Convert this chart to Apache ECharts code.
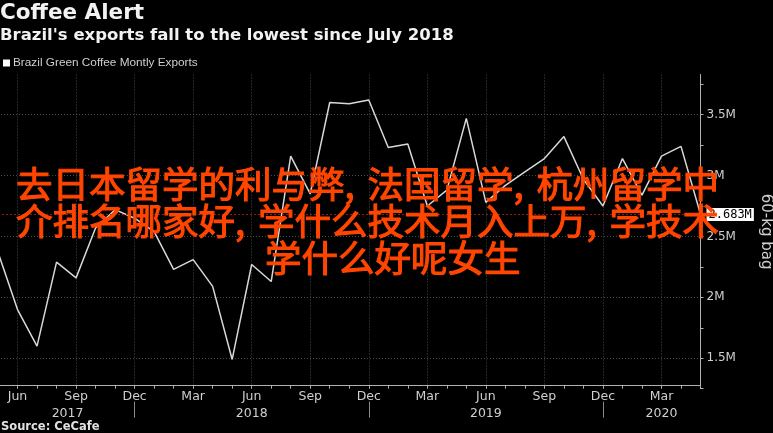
<!DOCTYPE html>
<html><head><meta charset="utf-8">
<script src="https://cdn.jsdelivr.net/npm/echarts@6/dist/echarts.min.js"></script>
<style>html,body{margin:0;padding:0;background:#000}#c{width:773px;height:433px}</style>
</head><body><div id="c"></div>
<script>
const categories = ['May 2017','Jun 2017','Jul 2017','Aug 2017','Sep 2017','Oct 2017','Nov 2017','Dec 2017',
  'Jan 2018','Feb 2018','Mar 2018','Apr 2018','May 2018','Jun 2018','Jul 2018','Aug 2018','Sep 2018','Oct 2018','Nov 2018','Dec 2018',
  'Jan 2019','Feb 2019','Mar 2019','Apr 2019','May 2019','Jun 2019','Jul 2019','Aug 2019','Sep 2019','Oct 2019','Nov 2019','Dec 2019',
  'Jan 2020','Feb 2020','Mar 2020','Apr 2020','May 2020'];
const exportsM = [2.37,1.90,1.60,2.29,2.16,2.57,2.72,2.65,
  2.54,2.23,2.31,2.09,1.49,2.27,2.13,3.16,2.85,3.60,3.59,3.62,
  3.23,3.26,2.75,2.88,3.47,2.78,2.92,3.03,3.14,3.32,2.97,2.75,
  3.14,2.84,3.16,3.24,2.683];
const lastValue = 2.683;
const monthTickLabels = ['Jun','Sep','Dec','Mar'];
const yTickValues = [1.5,2,2.5,3,3.5];
const yTickLabels = ['1.5M','2M','2.5M','3M','3.5M'];
const yearLabelAt = ['Sep 2017','Jun 2018','Jun 2019','Mar 2020'];
const yearLabels = ['2017','2018','2019','2020'];
const yearSeparatorAt = ['Dec 2017','Dec 2018','Dec 2019'];
const overlayLines = [
  ['去日本留学的利与弊', '法国留学', '杭州留学中'],
  ['介排名哪家好', '学什么技术月入上万', '学技术'],
  ['学什么好呢女生']
];

const ORANGE = '#ff4500';
const cjk = {fontSize: 36.5, fontFamily: 'Noto Sans CJK SC', fill: ORANGE, stroke: ORANGE, lineWidth: 1.1};
function richLine(parts){ return parts.map(p => '{t|' + p + '}').join('{c|,}'); }

const chart = echarts.init(document.getElementById('c'));
chart.setOption({
  backgroundColor: '#000',
  animation: false,
  title: [
    {text: 'Coffee Alert', left: 0, top: 2, padding: 0,
     textStyle: {color: '#f2f2f2', fontSize: 21.5, fontWeight: 'bold', fontFamily: 'DejaVu Sans'}},
    {text: "Brazil's exports fall to the lowest since July 2018", left: 0, top: 27, padding: 0,
     textStyle: {color: '#f2f2f2', fontSize: 16.5, fontWeight: 'bold', fontFamily: 'DejaVu Sans'}},
    {text: 'Source: CeCafe', left: 1, top: 421, padding: 0,
     textStyle: {color: '#e0e0e0', fontSize: 11.5, fontWeight: 'bold', fontFamily: 'DejaVu Sans'}}
  ],
  legend: {
    left: 3, top: 57, padding: 0, icon: 'rect', itemWidth: 7, itemHeight: 7,
    textStyle: {color: '#cfcfcf', fontSize: 11.8, fontFamily: 'Liberation Sans', padding: [0,0,0,-2]},
    data: ['Brazil Green Coffee Montly Exports']
  },
  grid: {left: -2, right: 72.5, top: 74.5, bottom: 44.3, containLabel: false, outerBoundsMode: 'none'},
  xAxis: [{
    type: 'category', data: categories, boundaryGap: false, position: 'bottom', offset: -3,
    axisLine: {show: true, lineStyle: {color: '#b0b0b0', width: 1}},
    axisTick: {show: true, interval: 0, length: 3, lineStyle: {color: '#b0b0b0'}},
    axisLabel: {
      interval: (i, v) => monthTickLabels.includes(v.split(' ')[0]),
      formatter: v => v.split(' ')[0],
      color: '#cfcfcf', fontSize: 12.5, fontFamily: 'DejaVu Sans', margin: 5
    },
    splitLine: {show: true, interval: (i, v) => monthTickLabels.includes(v.split(' ')[0]),
      lineStyle: {color: '#4a4a4a', type: [1, 2], width: 1}}
  }, {
    type: 'category', data: categories, boundaryGap: false, position: 'bottom', offset: 13,
    axisLine: {show: false},
    axisTick: {show: true, interval: (i, v) => yearSeparatorAt.includes(v), length: 16, inside: false,
      lineStyle: {color: '#8a8a8a'}},
    axisLabel: {
      interval: (i, v) => yearLabelAt.includes(v),
      formatter: v => {
        const k = yearLabelAt.indexOf(v);
        if (k < 0) return '';
        return (k === 0 ? '{s|' : '{n|') + yearLabels[k] + '}';
      },
      margin: 6,
      rich: {
        s: {color: '#cfcfcf', fontSize: 12.5, fontFamily: 'DejaVu Sans', padding: [0, 17, 0, 0]},
        n: {color: '#cfcfcf', fontSize: 12.5, fontFamily: 'DejaVu Sans'}
      }
    },
    splitLine: {show: false}
  }],
  yAxis: {
    type: 'value', position: 'right', min: 1.25, max: 3.83, interval: 0.25,
    name: '60-kg bag', nameLocation: 'middle', nameRotate: -90, nameGap: 58,
    nameTextStyle: {color: '#cfcfcf', fontSize: 15, fontFamily: 'DejaVu Sans'},
    axisLine: {show: true, lineStyle: {color: '#b0b0b0', width: 1}},
    axisTick: {show: true, length: 3, lineStyle: {color: '#b0b0b0'}},
    axisLabel: {
      color: '#cfcfcf', fontSize: 12, fontFamily: 'DejaVu Sans', margin: 6,
      showMaxLabel: false,
      formatter: v => {
        const k = yTickValues.findIndex(t => Math.abs(t - v) < 1e-6);
        return k >= 0 ? yTickLabels[k] : '';
      }
    },
    splitLine: {show: true, lineStyle: {
      color: ['rgba(0,0,0,0)','#4a4a4a','rgba(0,0,0,0)','#4a4a4a','rgba(0,0,0,0)','#4a4a4a',
              'rgba(0,0,0,0)','#4a4a4a','rgba(0,0,0,0)','#4a4a4a','rgba(0,0,0,0)','rgba(0,0,0,0)'],
      type: [1, 2], width: 1}}
  },
  series: [{
    name: 'Brazil Green Coffee Montly Exports',
    type: 'line', data: exportsM, symbol: 'none', clip: true,
    itemStyle: {color: '#ffffff'},
    lineStyle: {color: '#d8d8d8', width: 1.5},
    markLine: {
      silent: true, symbol: ['none', 'none'],
      lineStyle: {color: '#8a1c1c', type: [2, 2], width: 1},
      label: {position: 'end', formatter: () => lastValue + 'M', backgroundColor: '#ffffff',
        color: '#000', fontSize: 12, fontFamily: 'DejaVu Sans Mono', padding: [1, 2, 0, 2], distance: 6},
      data: [{yAxis: lastValue}]
    }
  }],
  graphic: overlayLines.map((parts, i) => ({
    type: 'text', z: 100,
    x: i < 2 ? 16 : 265, y: 184 + i * 37,
    style: {
      text: richLine(parts), textAlign: 'left', textVerticalAlign: 'middle',
      fontSize: 36.5, fontFamily: 'Noto Sans CJK SC', fill: ORANGE, stroke: ORANGE, lineWidth: 1.1,
      rich: {t: cjk, c: Object.assign({}, cjk, {width: 23})}
    }
  }))
});
</script></body></html>
